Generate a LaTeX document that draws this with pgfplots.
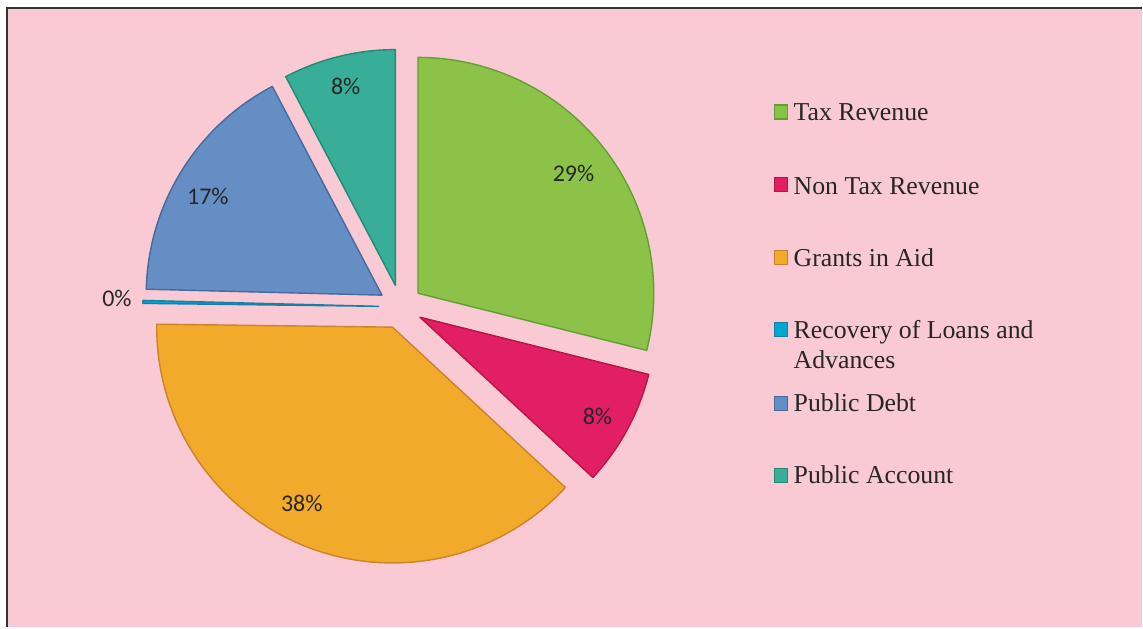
\documentclass[border=0pt]{standalone}
\usepackage{pgfplots}
\pgfplotsset{compat=1.18}
\usepackage{fontspec}
\setmainfont{Liberation Serif}
\newfontfamily\carlito{Carlito}

\definecolor{bgpink}{RGB}{249,202,212}
\definecolor{taxf}{RGB}{141,194,72}     \definecolor{taxd}{RGB}{98,160,52}
\definecolor{ntaxf}{RGB}{226,30,100}    \definecolor{ntaxd}{RGB}{185,22,72}
\definecolor{grantf}{RGB}{241,170,42}   \definecolor{grantd}{RGB}{205,130,45}
\definecolor{recf}{RGB}{0,168,208}      \definecolor{recd}{RGB}{20,128,168}
\definecolor{debtf}{RGB}{101,143,196}   \definecolor{debtd}{RGB}{70,105,158}
\definecolor{accf}{RGB}{56,174,153}     \definecolor{accd}{RGB}{32,138,118}

% pie centre (px), radius and explode offset
\newcommand{\cx}{401}
\newcommand{\cy}{-307}
% #1 cumulative share before slice (%), #2 share (%), #3 fill, #4 edge
\newcommand{\slice}[4]{%
  \filldraw[fill=#3, draw=#4, line width=0.7pt, line join=round]
    (axis cs:\cx,\cy) ++({90-3.6*(#1+#2/2)}:11pt)
    -- ++({90-3.6*#1}:118pt)
    arc[start angle={90-3.6*#1}, end angle={90-3.6*(#1+#2)}, radius=118pt]
    -- cycle;}
\newcommand{\legitem}[5]{% y top, y bottom, fill, edge, baseline
  \filldraw[fill=#3, draw=#4, line width=0.6pt] (axis cs:775,-#1) rectangle (axis cs:788,-#2);}

\begin{document}
\begin{tikzpicture}
\begin{axis}[
  at={(0,0)}, anchor=north west,
  x=0.5pt, y=0.5pt, scale only axis,
  xmin=0, xmax=1143, ymin=-628, ymax=0,
  hide axis, clip=false,
]
% background and frame
\fill[white] (axis cs:0,0) rectangle (axis cs:1143,-628);
\fill[bgpink] (axis cs:8,-8) rectangle (axis cs:1143,-628);
\draw[black!80, line width=1pt] (axis cs:7.5,-628) -- (axis cs:7.5,-7.5) -- (axis cs:1143,-7.5);

% slices: Tax 28.9, Non Tax 8.0, Grants 38.3, Recovery 0.2, Debt 16.9, Account 7.7
\slice{0}{28.9}{taxf}{taxd}
\slice{28.9}{8.0}{ntaxf}{ntaxd}
\slice{36.9}{38.3}{grantf}{grantd}
\slice{75.2}{0.2}{recf}{recd}
\slice{75.4}{16.9}{debtf}{debtd}
\slice{92.3}{7.7}{accf}{accd}

% data labels
\begin{scope}[every node/.style={font=\carlito\fontsize{12}{14}\selectfont, text=black!85, inner sep=0pt}]
\node at (axis cs:574,-174) {29\%};
\node at (axis cs:598,-417) {8\%};
\node at (axis cs:302,-504) {38\%};
\node at (axis cs:117,-299) {0\%};
\node at (axis cs:208,-197) {17\%};
\node at (axis cs:346,-86) {8\%};
\end{scope}

% legend
\legitem{105}{119}{taxf}{taxd}{}
\legitem{178}{192}{ntaxf}{ntaxd}{}
\legitem{251}{265}{grantf}{grantd}{}
\legitem{323}{337}{recf}{recd}{}
\legitem{397}{411}{debtf}{debtd}{}
\legitem{469}{483}{accf}{accd}{}
\begin{scope}[every node/.style={font=\fontsize{12.9}{15}\selectfont, text=black!85, inner sep=0pt, anchor=base west}]
\node at (axis cs:794,-121) {Tax Revenue};
\node at (axis cs:794,-195) {Non Tax Revenue};
\node at (axis cs:794,-267) {Grants in Aid};
\node at (axis cs:794,-339) {Recovery of Loans and};
\node at (axis cs:794,-369) {Advances};
\node at (axis cs:794,-412) {Public Debt};
\node at (axis cs:794,-484) {Public Account};
\end{scope}
\end{axis}
\end{tikzpicture}
\end{document}
